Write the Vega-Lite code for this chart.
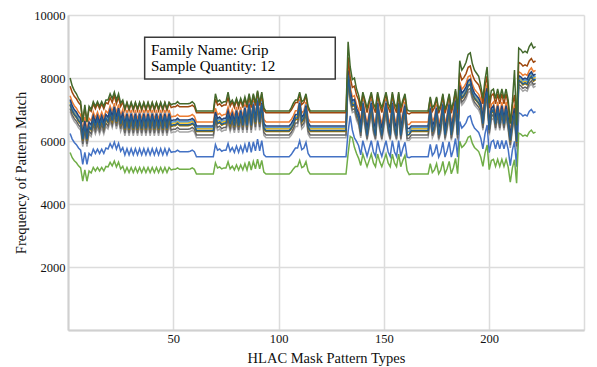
{
"$schema": "https://vega.github.io/schema/vega-lite/v6.json",
"width": 516,
"height": 315,
"autosize": {"type": "none"},
"padding": {"left": 68, "top": 15, "right": 13, "bottom": 37},
"background": "white",
"config": {"view": {"stroke": null}, "font": "Liberation Serif"},
"datasets": {
"lines": [
{"x":1,"s01":6235,"s02":7440,"s03":6940,"s04":7230,"s05":7270,"s06":5633,"s07":7320,"s08":7740,"s09":7030,"s10":7140,"s11":7170,"s12":8000},
{"x":2,"s01":6060,"s02":7240,"s03":6740,"s04":7030,"s05":7070,"s06":5470,"s07":7120,"s08":7540,"s09":6830,"s10":6940,"s11":6970,"s12":7750},
{"x":3,"s01":5955,"s02":7120,"s03":6620,"s04":6910,"s05":6950,"s06":5373,"s07":7000,"s08":7420,"s09":6710,"s10":6820,"s11":6850,"s12":7600},
{"x":4,"s01":5885,"s02":7040,"s03":6540,"s04":6830,"s05":6870,"s06":5308,"s07":6920,"s08":7340,"s09":6630,"s10":6740,"s11":6770,"s12":7500},
{"x":5,"s01":5780,"s02":6920,"s03":6420,"s04":6710,"s05":6750,"s06":5210,"s07":6800,"s08":7220,"s09":6510,"s10":6620,"s11":6650,"s12":7350},
{"x":6,"s01":5710,"s02":6840,"s03":6340,"s04":6630,"s05":6670,"s06":5145,"s07":6720,"s08":7140,"s09":6430,"s10":6540,"s11":6570,"s12":7250},
{"x":7,"s01":5255,"s02":6320,"s03":5820,"s04":6110,"s05":6150,"s06":4723,"s07":6200,"s08":6620,"s09":5910,"s10":6020,"s11":6050,"s12":6600},
{"x":8,"s01":5640,"s02":6760,"s03":6260,"s04":6550,"s05":6590,"s06":5080,"s07":6640,"s08":7060,"s09":6350,"s10":6460,"s11":6490,"s12":7150},
{"x":9,"s01":5255,"s02":6320,"s03":5820,"s04":6110,"s05":6150,"s06":4723,"s07":6200,"s08":6620,"s09":5910,"s10":6020,"s11":6050,"s12":6600},
{"x":10,"s01":5605,"s02":6720,"s03":6220,"s04":6510,"s05":6550,"s06":5048,"s07":6600,"s08":7020,"s09":6310,"s10":6420,"s11":6450,"s12":7100},
{"x":11,"s01":5535,"s02":6640,"s03":6140,"s04":6430,"s05":6470,"s06":4983,"s07":6520,"s08":6940,"s09":6230,"s10":6340,"s11":6370,"s12":7000},
{"x":12,"s01":5740,"s02":6920,"s03":6420,"s04":6730,"s05":6790,"s06":5160,"s07":6800,"s08":7180,"s09":6530,"s10":6640,"s11":6690,"s12":7250},
{"x":13,"s01":5605,"s02":6720,"s03":6220,"s04":6510,"s05":6550,"s06":5048,"s07":6600,"s08":7020,"s09":6310,"s10":6420,"s11":6450,"s12":7100},
{"x":14,"s01":5740,"s02":6920,"s03":6420,"s04":6730,"s05":6790,"s06":5160,"s07":6800,"s08":7180,"s09":6530,"s10":6640,"s11":6690,"s12":7250},
{"x":15,"s01":5605,"s02":6720,"s03":6220,"s04":6510,"s05":6550,"s06":5048,"s07":6600,"s08":7020,"s09":6310,"s10":6420,"s11":6450,"s12":7100},
{"x":16,"s01":5740,"s02":6920,"s03":6420,"s04":6730,"s05":6790,"s06":5160,"s07":6800,"s08":7180,"s09":6530,"s10":6640,"s11":6690,"s12":7250},
{"x":17,"s01":5605,"s02":6720,"s03":6220,"s04":6510,"s05":6550,"s06":5048,"s07":6600,"s08":7020,"s09":6310,"s10":6420,"s11":6450,"s12":7100},
{"x":18,"s01":5775,"s02":6960,"s03":6460,"s04":6770,"s05":6830,"s06":5193,"s07":6840,"s08":7220,"s09":6570,"s10":6680,"s11":6730,"s12":7300},
{"x":19,"s01":5745,"s02":6880,"s03":6380,"s04":6670,"s05":6710,"s06":5178,"s07":6760,"s08":7180,"s09":6470,"s10":6580,"s11":6610,"s12":7300},
{"x":20,"s01":5915,"s02":7120,"s03":6620,"s04":6930,"s05":6990,"s06":5323,"s07":7000,"s08":7380,"s09":6730,"s10":6840,"s11":6890,"s12":7500},
{"x":21,"s01":5780,"s02":6920,"s03":6420,"s04":6710,"s05":6750,"s06":5210,"s07":6800,"s08":7220,"s09":6510,"s10":6620,"s11":6650,"s12":7350},
{"x":22,"s01":5965,"s02":7200,"s03":6700,"s04":7020,"s05":7090,"s06":5363,"s07":7080,"s08":7440,"s09":6820,"s10":6930,"s11":6990,"s12":7550},
{"x":23,"s01":5745,"s02":6880,"s03":6380,"s04":6670,"s05":6710,"s06":5178,"s07":6760,"s08":7180,"s09":6470,"s10":6580,"s11":6610,"s12":7300},
{"x":24,"s01":5930,"s02":7160,"s03":6660,"s04":6980,"s05":7050,"s06":5330,"s07":7040,"s08":7400,"s09":6780,"s10":6890,"s11":6950,"s12":7500},
{"x":25,"s01":5675,"s02":6800,"s03":6300,"s04":6590,"s05":6630,"s06":5113,"s07":6680,"s08":7100,"s09":6390,"s10":6500,"s11":6530,"s12":7200},
{"x":26,"s01":5790,"s02":7000,"s03":6500,"s04":6820,"s05":6890,"s06":5200,"s07":6880,"s08":7240,"s09":6620,"s10":6730,"s11":6790,"s12":7300},
{"x":27,"s01":5556,"s02":6664,"s03":6164,"s04":6454,"s05":6494,"s06":5002,"s07":6544,"s08":6964,"s09":6254,"s10":6364,"s11":6394,"s12":7030},
{"x":28,"s01":5756,"s02":6984,"s03":6484,"s04":6814,"s05":6894,"s06":5162,"s07":6864,"s08":7204,"s09":6614,"s10":6724,"s11":6794,"s12":7230},
{"x":29,"s01":5556,"s02":6664,"s03":6164,"s04":6454,"s05":6494,"s06":5002,"s07":6544,"s08":6964,"s09":6254,"s10":6364,"s11":6394,"s12":7030},
{"x":30,"s01":5756,"s02":6984,"s03":6484,"s04":6814,"s05":6894,"s06":5162,"s07":6864,"s08":7204,"s09":6614,"s10":6724,"s11":6794,"s12":7230},
{"x":31,"s01":5556,"s02":6664,"s03":6164,"s04":6454,"s05":6494,"s06":5002,"s07":6544,"s08":6964,"s09":6254,"s10":6364,"s11":6394,"s12":7030},
{"x":32,"s01":5756,"s02":6984,"s03":6484,"s04":6814,"s05":6894,"s06":5162,"s07":6864,"s08":7204,"s09":6614,"s10":6724,"s11":6794,"s12":7230},
{"x":33,"s01":5556,"s02":6664,"s03":6164,"s04":6454,"s05":6494,"s06":5002,"s07":6544,"s08":6964,"s09":6254,"s10":6364,"s11":6394,"s12":7030},
{"x":34,"s01":5756,"s02":6984,"s03":6484,"s04":6814,"s05":6894,"s06":5162,"s07":6864,"s08":7204,"s09":6614,"s10":6724,"s11":6794,"s12":7230},
{"x":35,"s01":5556,"s02":6664,"s03":6164,"s04":6454,"s05":6494,"s06":5002,"s07":6544,"s08":6964,"s09":6254,"s10":6364,"s11":6394,"s12":7030},
{"x":36,"s01":5756,"s02":6984,"s03":6484,"s04":6814,"s05":6894,"s06":5162,"s07":6864,"s08":7204,"s09":6614,"s10":6724,"s11":6794,"s12":7230},
{"x":37,"s01":5556,"s02":6664,"s03":6164,"s04":6454,"s05":6494,"s06":5002,"s07":6544,"s08":6964,"s09":6254,"s10":6364,"s11":6394,"s12":7030},
{"x":38,"s01":5756,"s02":6984,"s03":6484,"s04":6814,"s05":6894,"s06":5162,"s07":6864,"s08":7204,"s09":6614,"s10":6724,"s11":6794,"s12":7230},
{"x":39,"s01":5556,"s02":6664,"s03":6164,"s04":6454,"s05":6494,"s06":5002,"s07":6544,"s08":6964,"s09":6254,"s10":6364,"s11":6394,"s12":7030},
{"x":40,"s01":5756,"s02":6984,"s03":6484,"s04":6814,"s05":6894,"s06":5162,"s07":6864,"s08":7204,"s09":6614,"s10":6724,"s11":6794,"s12":7230},
{"x":41,"s01":5556,"s02":6664,"s03":6164,"s04":6454,"s05":6494,"s06":5002,"s07":6544,"s08":6964,"s09":6254,"s10":6364,"s11":6394,"s12":7030},
{"x":42,"s01":5756,"s02":6984,"s03":6484,"s04":6814,"s05":6894,"s06":5162,"s07":6864,"s08":7204,"s09":6614,"s10":6724,"s11":6794,"s12":7230},
{"x":43,"s01":5556,"s02":6664,"s03":6164,"s04":6454,"s05":6494,"s06":5002,"s07":6544,"s08":6964,"s09":6254,"s10":6364,"s11":6394,"s12":7030},
{"x":44,"s01":5756,"s02":6984,"s03":6484,"s04":6814,"s05":6894,"s06":5162,"s07":6864,"s08":7204,"s09":6614,"s10":6724,"s11":6794,"s12":7230},
{"x":45,"s01":5556,"s02":6664,"s03":6164,"s04":6454,"s05":6494,"s06":5002,"s07":6544,"s08":6964,"s09":6254,"s10":6364,"s11":6394,"s12":7030},
{"x":46,"s01":5756,"s02":6984,"s03":6484,"s04":6814,"s05":6894,"s06":5162,"s07":6864,"s08":7204,"s09":6614,"s10":6724,"s11":6794,"s12":7230},
{"x":47,"s01":5556,"s02":6664,"s03":6164,"s04":6454,"s05":6494,"s06":5002,"s07":6544,"s08":6964,"s09":6254,"s10":6364,"s11":6394,"s12":7030},
{"x":48,"s01":5756,"s02":6984,"s03":6484,"s04":6814,"s05":6894,"s06":5162,"s07":6864,"s08":7204,"s09":6614,"s10":6724,"s11":6794,"s12":7230},
{"x":49,"s01":5640,"s02":6760,"s03":6260,"s04":6550,"s05":6590,"s06":5080,"s07":6640,"s08":7060,"s09":6350,"s10":6460,"s11":6490,"s12":7150},
{"x":50,"s01":5661,"s02":6784,"s03":6284,"s04":6574,"s05":6614,"s06":5100,"s07":6664,"s08":7084,"s09":6374,"s10":6484,"s11":6514,"s12":7180},
{"x":51,"s01":5661,"s02":6784,"s03":6284,"s04":6574,"s05":6614,"s06":5100,"s07":6664,"s08":7084,"s09":6374,"s10":6484,"s11":6514,"s12":7180},
{"x":52,"s01":5710,"s02":6840,"s03":6340,"s04":6630,"s05":6670,"s06":5145,"s07":6720,"s08":7140,"s09":6430,"s10":6540,"s11":6570,"s12":7250},
{"x":53,"s01":5661,"s02":6784,"s03":6284,"s04":6574,"s05":6614,"s06":5100,"s07":6664,"s08":7084,"s09":6374,"s10":6484,"s11":6514,"s12":7180},
{"x":57,"s01":5661,"s02":6784,"s03":6284,"s04":6574,"s05":6614,"s06":5100,"s07":6664,"s08":7084,"s09":6374,"s10":6484,"s11":6514,"s12":7180},
{"x":58,"s01":5675,"s02":6800,"s03":6300,"s04":6590,"s05":6630,"s06":5113,"s07":6680,"s08":7100,"s09":6390,"s10":6500,"s11":6530,"s12":7200},
{"x":59,"s01":5710,"s02":6840,"s03":6340,"s04":6630,"s05":6670,"s06":5145,"s07":6720,"s08":7140,"s09":6430,"s10":6540,"s11":6570,"s12":7250},
{"x":60,"s01":5661,"s02":6784,"s03":6284,"s04":6574,"s05":6614,"s06":5100,"s07":6664,"s08":7084,"s09":6374,"s10":6484,"s11":6514,"s12":7180},
{"x":61,"s01":5500,"s02":6600,"s03":6100,"s04":6390,"s05":6430,"s06":4950,"s07":6480,"s08":6900,"s09":6190,"s10":6300,"s11":6330,"s12":6950},
{"x":69,"s01":5500,"s02":6600,"s03":6100,"s04":6390,"s05":6430,"s06":4950,"s07":6480,"s08":6900,"s09":6190,"s10":6300,"s11":6330,"s12":6950},
{"x":70,"s01":5885,"s02":7040,"s03":6540,"s04":6830,"s05":6870,"s06":5308,"s07":6920,"s08":7340,"s09":6630,"s10":6740,"s11":6770,"s12":7500},
{"x":71,"s01":5710,"s02":6840,"s03":6340,"s04":6630,"s05":6670,"s06":5145,"s07":6720,"s08":7140,"s09":6430,"s10":6540,"s11":6570,"s12":7250},
{"x":72,"s01":5745,"s02":6880,"s03":6380,"s04":6670,"s05":6710,"s06":5178,"s07":6760,"s08":7180,"s09":6470,"s10":6580,"s11":6610,"s12":7300},
{"x":73,"s01":5675,"s02":6800,"s03":6300,"s04":6590,"s05":6630,"s06":5113,"s07":6680,"s08":7100,"s09":6390,"s10":6500,"s11":6530,"s12":7200},
{"x":74,"s01":5710,"s02":6840,"s03":6340,"s04":6630,"s05":6670,"s06":5145,"s07":6720,"s08":7140,"s09":6430,"s10":6540,"s11":6570,"s12":7250},
{"x":75,"s01":5710,"s02":6840,"s03":6340,"s04":6630,"s05":6670,"s06":5145,"s07":6720,"s08":7140,"s09":6430,"s10":6540,"s11":6570,"s12":7250},
{"x":76,"s01":5920,"s02":7080,"s03":6580,"s04":6870,"s05":6910,"s06":5340,"s07":6960,"s08":7380,"s09":6670,"s10":6780,"s11":6810,"s12":7550},
{"x":77,"s01":5675,"s02":6800,"s03":6300,"s04":6590,"s05":6630,"s06":5113,"s07":6680,"s08":7100,"s09":6390,"s10":6500,"s11":6530,"s12":7200},
{"x":78,"s01":5790,"s02":7000,"s03":6500,"s04":6820,"s05":6890,"s06":5200,"s07":6880,"s08":7240,"s09":6620,"s10":6730,"s11":6790,"s12":7300},
{"x":79,"s01":5640,"s02":6760,"s03":6260,"s04":6550,"s05":6590,"s06":5080,"s07":6640,"s08":7060,"s09":6350,"s10":6460,"s11":6490,"s12":7150},
{"x":80,"s01":5840,"s02":7080,"s03":6580,"s04":6910,"s05":6990,"s06":5240,"s07":6960,"s08":7300,"s09":6710,"s10":6820,"s11":6890,"s12":7350},
{"x":81,"s01":5640,"s02":6760,"s03":6260,"s04":6550,"s05":6590,"s06":5080,"s07":6640,"s08":7060,"s09":6350,"s10":6460,"s11":6490,"s12":7150},
{"x":82,"s01":5840,"s02":7080,"s03":6580,"s04":6910,"s05":6990,"s06":5240,"s07":6960,"s08":7300,"s09":6710,"s10":6820,"s11":6890,"s12":7350},
{"x":83,"s01":5640,"s02":6760,"s03":6260,"s04":6550,"s05":6590,"s06":5080,"s07":6640,"s08":7060,"s09":6350,"s10":6460,"s11":6490,"s12":7150},
{"x":84,"s01":5890,"s02":7160,"s03":6660,"s04":7000,"s05":7090,"s06":5280,"s07":7040,"s08":7360,"s09":6800,"s10":6910,"s11":6990,"s12":7400},
{"x":85,"s01":5640,"s02":6760,"s03":6260,"s04":6550,"s05":6590,"s06":5080,"s07":6640,"s08":7060,"s09":6350,"s10":6460,"s11":6490,"s12":7150},
{"x":86,"s01":5975,"s02":7280,"s03":6780,"s04":7130,"s05":7230,"s06":5353,"s07":7160,"s08":7460,"s09":6930,"s10":7040,"s11":7130,"s12":7500},
{"x":87,"s01":5640,"s02":6760,"s03":6260,"s04":6550,"s05":6590,"s06":5080,"s07":6640,"s08":7060,"s09":6350,"s10":6460,"s11":6490,"s12":7150},
{"x":88,"s01":5975,"s02":7280,"s03":6780,"s04":7130,"s05":7230,"s06":5353,"s07":7160,"s08":7460,"s09":6930,"s10":7040,"s11":7130,"s12":7500},
{"x":89,"s01":5690,"s02":6840,"s03":6340,"s04":6640,"s05":6690,"s06":5120,"s07":6720,"s08":7120,"s09":6440,"s10":6550,"s11":6590,"s12":7200},
{"x":90,"s01":6060,"s02":7400,"s03":6900,"s04":7260,"s05":7370,"s06":5425,"s07":7280,"s08":7560,"s09":7060,"s10":7170,"s11":7270,"s12":7600},
{"x":91,"s01":5690,"s02":6840,"s03":6340,"s04":6640,"s05":6690,"s06":5120,"s07":6720,"s08":7120,"s09":6440,"s10":6550,"s11":6590,"s12":7200},
{"x":92,"s01":6010,"s02":7320,"s03":6820,"s04":7170,"s05":7270,"s06":5385,"s07":7200,"s08":7500,"s09":6970,"s10":7080,"s11":7170,"s12":7550},
{"x":93,"s01":5570,"s02":6680,"s03":6180,"s04":6470,"s05":6510,"s06":5015,"s07":6560,"s08":6980,"s09":6270,"s10":6380,"s11":6410,"s12":7050},
{"x":94,"s01":5500,"s02":6600,"s03":6100,"s04":6390,"s05":6430,"s06":4950,"s07":6480,"s08":6900,"s09":6190,"s10":6300,"s11":6330,"s12":6950},
{"x":105,"s01":5500,"s02":6600,"s03":6100,"s04":6390,"s05":6430,"s06":4950,"s07":6480,"s08":6900,"s09":6190,"s10":6300,"s11":6330,"s12":6950},
{"x":106,"s01":5570,"s02":6680,"s03":6180,"s04":6470,"s05":6510,"s06":5015,"s07":6560,"s08":6980,"s09":6270,"s10":6380,"s11":6410,"s12":7050},
{"x":107,"s01":5675,"s02":6800,"s03":6300,"s04":6590,"s05":6630,"s06":5113,"s07":6680,"s08":7100,"s09":6390,"s10":6500,"s11":6530,"s12":7200},
{"x":108,"s01":5775,"s02":6960,"s03":6460,"s04":6770,"s05":6830,"s06":5193,"s07":6840,"s08":7220,"s09":6570,"s10":6680,"s11":6730,"s12":7300},
{"x":109,"s01":5775,"s02":6960,"s03":6460,"s04":6770,"s05":6830,"s06":5193,"s07":6840,"s08":7220,"s09":6570,"s10":6680,"s11":6730,"s12":7300},
{"x":110,"s01":6010,"s02":7320,"s03":6820,"s04":7170,"s05":7270,"s06":5385,"s07":7200,"s08":7500,"s09":6970,"s10":7080,"s11":7170,"s12":7550},
{"x":111,"s01":5725,"s02":6880,"s03":6380,"s04":6680,"s05":6730,"s06":5153,"s07":6760,"s08":7160,"s09":6480,"s10":6590,"s11":6630,"s12":7250},
{"x":112,"s01":5775,"s02":6960,"s03":6460,"s04":6770,"s05":6830,"s06":5193,"s07":6840,"s08":7220,"s09":6570,"s10":6680,"s11":6730,"s12":7300},
{"x":113,"s01":5960,"s02":7240,"s03":6740,"s04":7080,"s05":7170,"s06":5345,"s07":7120,"s08":7440,"s09":6880,"s10":6990,"s11":7070,"s12":7500},
{"x":114,"s01":5605,"s02":6720,"s03":6220,"s04":6510,"s05":6550,"s06":5048,"s07":6600,"s08":7020,"s09":6310,"s10":6420,"s11":6450,"s12":7100},
{"x":115,"s01":5500,"s02":6600,"s03":6100,"s04":6390,"s05":6430,"s06":4950,"s07":6480,"s08":6900,"s09":6190,"s10":6300,"s11":6330,"s12":6950},
{"x":132,"s01":5500,"s02":6600,"s03":6100,"s04":6390,"s05":6430,"s06":4950,"s07":6480,"s08":6900,"s09":6190,"s10":6300,"s11":6330,"s12":6950},
{"x":133,"s01":6300,"s02":8360,"s03":7860,"s04":8150,"s05":8190,"s06":5600,"s07":8240,"s08":8660,"s09":7950,"s10":8060,"s11":8090,"s12":9150},
{"x":134,"s01":6800,"s02":7720,"s03":7220,"s04":7510,"s05":7550,"s06":6150,"s07":7600,"s08":8020,"s09":7310,"s10":7420,"s11":7450,"s12":8350},
{"x":135,"s01":6350,"s02":7400,"s03":6900,"s04":7190,"s05":7230,"s06":6100,"s07":7280,"s08":7700,"s09":6990,"s10":7100,"s11":7130,"s12":7950},
{"x":136,"s01":6100,"s02":7440,"s03":6940,"s04":7230,"s05":7270,"s06":5800,"s07":7320,"s08":7740,"s09":7030,"s10":7140,"s11":7170,"s12":8000},
{"x":137,"s01":5990,"s02":7160,"s03":6660,"s04":6950,"s05":6990,"s06":5600,"s07":7040,"s08":7460,"s09":6750,"s10":6860,"s11":6890,"s12":7650},
{"x":138,"s01":5850,"s02":7000,"s03":6500,"s04":6790,"s05":6830,"s06":5450,"s07":6880,"s08":7300,"s09":6590,"s10":6700,"s11":6730,"s12":7450},
{"x":139,"s01":5560,"s02":6600,"s03":6100,"s04":6360,"s05":6370,"s06":5225,"s07":6480,"s08":6960,"s09":6160,"s10":6270,"s11":6270,"s12":7100},
{"x":140,"s01":6010,"s02":7320,"s03":6820,"s04":7170,"s05":7270,"s06":5585,"s07":7200,"s08":7500,"s09":6970,"s10":7080,"s11":7170,"s12":7550},
{"x":141,"s01":5760,"s02":6920,"s03":6420,"s04":6720,"s05":6770,"s06":5385,"s07":6800,"s08":7200,"s09":6520,"s10":6630,"s11":6670,"s12":7300},
{"x":142,"s01":5510,"s02":6520,"s03":6020,"s04":6270,"s05":6270,"s06":5185,"s07":6400,"s08":6900,"s09":6070,"s10":6180,"s11":6170,"s12":7050},
{"x":143,"s01":5760,"s02":6920,"s03":6420,"s04":6720,"s05":6770,"s06":5385,"s07":6800,"s08":7200,"s09":6520,"s10":6630,"s11":6670,"s12":7300},
{"x":144,"s01":6010,"s02":7320,"s03":6820,"s04":7170,"s05":7270,"s06":5585,"s07":7200,"s08":7500,"s09":6970,"s10":7080,"s11":7170,"s12":7550},
{"x":145,"s01":5660,"s02":6760,"s03":6260,"s04":6540,"s05":6570,"s06":5305,"s07":6640,"s08":7080,"s09":6340,"s10":6450,"s11":6470,"s12":7200},
{"x":146,"s01":5510,"s02":6520,"s03":6020,"s04":6270,"s05":6270,"s06":5185,"s07":6400,"s08":6900,"s09":6070,"s10":6180,"s11":6170,"s12":7050},
{"x":147,"s01":6010,"s02":7320,"s03":6820,"s04":7170,"s05":7270,"s06":5585,"s07":7200,"s08":7500,"s09":6970,"s10":7080,"s11":7170,"s12":7550},
{"x":148,"s01":5710,"s02":6840,"s03":6340,"s04":6630,"s05":6670,"s06":5345,"s07":6720,"s08":7140,"s09":6430,"s10":6540,"s11":6570,"s12":7250},
{"x":149,"s01":5510,"s02":6520,"s03":6020,"s04":6270,"s05":6270,"s06":5185,"s07":6400,"s08":6900,"s09":6070,"s10":6180,"s11":6170,"s12":7050},
{"x":150,"s01":5760,"s02":6920,"s03":6420,"s04":6720,"s05":6770,"s06":5385,"s07":6800,"s08":7200,"s09":6520,"s10":6630,"s11":6670,"s12":7300},
{"x":151,"s01":6010,"s02":7320,"s03":6820,"s04":7170,"s05":7270,"s06":5585,"s07":7200,"s08":7500,"s09":6970,"s10":7080,"s11":7170,"s12":7550},
{"x":152,"s01":5660,"s02":6760,"s03":6260,"s04":6540,"s05":6570,"s06":5305,"s07":6640,"s08":7080,"s09":6340,"s10":6450,"s11":6470,"s12":7200},
{"x":153,"s01":5510,"s02":6520,"s03":6020,"s04":6270,"s05":6270,"s06":5185,"s07":6400,"s08":6900,"s09":6070,"s10":6180,"s11":6170,"s12":7050},
{"x":154,"s01":6010,"s02":7320,"s03":6820,"s04":7170,"s05":7270,"s06":5585,"s07":7200,"s08":7500,"s09":6970,"s10":7080,"s11":7170,"s12":7550},
{"x":155,"s01":5660,"s02":6760,"s03":6260,"s04":6540,"s05":6570,"s06":5305,"s07":6640,"s08":7080,"s09":6340,"s10":6450,"s11":6470,"s12":7200},
{"x":156,"s01":5510,"s02":6520,"s03":6020,"s04":6270,"s05":6270,"s06":5185,"s07":6400,"s08":6900,"s09":6070,"s10":6180,"s11":6170,"s12":7050},
{"x":157,"s01":6010,"s02":7320,"s03":6820,"s04":7170,"s05":7270,"s06":5585,"s07":7200,"s08":7500,"s09":6970,"s10":7080,"s11":7170,"s12":7550},
{"x":158,"s01":5510,"s02":6520,"s03":6020,"s04":6270,"s05":6270,"s06":5185,"s07":6400,"s08":6900,"s09":6070,"s10":6180,"s11":6170,"s12":7050},
{"x":159,"s01":5760,"s02":6920,"s03":6420,"s04":6720,"s05":6770,"s06":5385,"s07":6800,"s08":7200,"s09":6520,"s10":6630,"s11":6670,"s12":7300},
{"x":160,"s01":5960,"s02":7240,"s03":6740,"s04":7080,"s05":7170,"s06":5545,"s07":7120,"s08":7440,"s09":6880,"s10":6990,"s11":7070,"s12":7500},
{"x":161,"s01":5490,"s02":6520,"s03":6020,"s04":6280,"s05":6290,"s06":5060,"s07":6400,"s08":6880,"s09":6080,"s10":6190,"s11":6190,"s12":7000},
{"x":162,"s01":5470,"s02":6520,"s03":6020,"s04":6290,"s05":6310,"s06":4935,"s07":6400,"s08":6860,"s09":6090,"s10":6200,"s11":6210,"s12":6950},
{"x":163,"s01":5500,"s02":6600,"s03":6100,"s04":6390,"s05":6430,"s06":4950,"s07":6480,"s08":6900,"s09":6190,"s10":6300,"s11":6330,"s12":6950},
{"x":171,"s01":5500,"s02":6600,"s03":6100,"s04":6390,"s05":6430,"s06":4950,"s07":6480,"s08":6900,"s09":6190,"s10":6300,"s11":6330,"s12":6950},
{"x":172,"s01":5890,"s02":7160,"s03":6660,"s04":7000,"s05":7090,"s06":5280,"s07":7040,"s08":7360,"s09":6800,"s10":6910,"s11":6990,"s12":7400},
{"x":173,"s01":5540,"s02":6600,"s03":6100,"s04":6370,"s05":6390,"s06":5000,"s07":6480,"s08":6940,"s09":6170,"s10":6280,"s11":6290,"s12":7050},
{"x":174,"s01":5640,"s02":6760,"s03":6260,"s04":6550,"s05":6590,"s06":5080,"s07":6640,"s08":7060,"s09":6350,"s10":6460,"s11":6490,"s12":7150},
{"x":175,"s01":5890,"s02":7160,"s03":6660,"s04":7000,"s05":7090,"s06":5280,"s07":7040,"s08":7360,"s09":6800,"s10":6910,"s11":6990,"s12":7400},
{"x":176,"s01":5490,"s02":6520,"s03":6020,"s04":6280,"s05":6290,"s06":4960,"s07":6400,"s08":6880,"s09":6080,"s10":6190,"s11":6190,"s12":7000},
{"x":177,"s01":5640,"s02":6760,"s03":6260,"s04":6550,"s05":6590,"s06":5080,"s07":6640,"s08":7060,"s09":6350,"s10":6460,"s11":6490,"s12":7150},
{"x":178,"s01":5975,"s02":7280,"s03":6780,"s04":7130,"s05":7230,"s06":5353,"s07":7160,"s08":7460,"s09":6930,"s10":7040,"s11":7130,"s12":7500},
{"x":179,"s01":5490,"s02":6520,"s03":6020,"s04":6280,"s05":6290,"s06":4960,"s07":6400,"s08":6880,"s09":6080,"s10":6190,"s11":6190,"s12":7000},
{"x":180,"s01":5690,"s02":6840,"s03":6340,"s04":6640,"s05":6690,"s06":5120,"s07":6720,"s08":7120,"s09":6440,"s10":6550,"s11":6590,"s12":7200},
{"x":181,"s01":5975,"s02":7280,"s03":6780,"s04":7130,"s05":7230,"s06":5353,"s07":7160,"s08":7460,"s09":6930,"s10":7040,"s11":7130,"s12":7500},
{"x":182,"s01":5490,"s02":6520,"s03":6020,"s04":6280,"s05":6290,"s06":4960,"s07":6400,"s08":6880,"s09":6080,"s10":6190,"s11":6190,"s12":7000},
{"x":183,"s01":5725,"s02":6880,"s03":6380,"s04":6680,"s05":6730,"s06":5153,"s07":6760,"s08":7160,"s09":6480,"s10":6590,"s11":6630,"s12":7250},
{"x":184,"s01":6080,"s02":7400,"s03":6900,"s04":7250,"s05":7350,"s06":5450,"s07":7280,"s08":7580,"s09":7050,"s10":7160,"s11":7250,"s12":7650},
{"x":185,"s01":5490,"s02":6520,"s03":6020,"s04":6280,"s05":6290,"s06":4960,"s07":6400,"s08":6880,"s09":6080,"s10":6190,"s11":6190,"s12":7000},
{"x":186,"s01":6620,"s02":7880,"s03":7380,"s04":7670,"s05":7710,"s06":5990,"s07":7760,"s08":8180,"s09":7470,"s10":7580,"s11":7610,"s12":8550},
{"x":187,"s01":6410,"s02":7640,"s03":7140,"s04":7430,"s05":7470,"s06":5795,"s07":7520,"s08":7940,"s09":7230,"s10":7340,"s11":7370,"s12":8250},
{"x":188,"s01":6480,"s02":7720,"s03":7220,"s04":7510,"s05":7550,"s06":5860,"s07":7600,"s08":8020,"s09":7310,"s10":7420,"s11":7450,"s12":8350},
{"x":189,"s01":6585,"s02":7840,"s03":7340,"s04":7630,"s05":7670,"s06":5958,"s07":7720,"s08":8140,"s09":7430,"s10":7540,"s11":7570,"s12":8500},
{"x":190,"s01":6760,"s02":8040,"s03":7540,"s04":7830,"s05":7870,"s06":6120,"s07":7920,"s08":8340,"s09":7630,"s10":7740,"s11":7770,"s12":8750},
{"x":191,"s01":6795,"s02":8080,"s03":7580,"s04":7870,"s05":7910,"s06":6153,"s07":7960,"s08":8380,"s09":7670,"s10":7780,"s11":7810,"s12":8800},
{"x":192,"s01":6550,"s02":7800,"s03":7300,"s04":7590,"s05":7630,"s06":5925,"s07":7680,"s08":8100,"s09":7390,"s10":7500,"s11":7530,"s12":8450},
{"x":193,"s01":6410,"s02":7640,"s03":7140,"s04":7430,"s05":7470,"s06":5795,"s07":7520,"s08":7940,"s09":7230,"s10":7340,"s11":7370,"s12":8250},
{"x":194,"s01":6340,"s02":7560,"s03":7060,"s04":7350,"s05":7390,"s06":5730,"s07":7440,"s08":7860,"s09":7150,"s10":7260,"s11":7290,"s12":8150},
{"x":195,"s01":6270,"s02":7480,"s03":6980,"s04":7270,"s05":7310,"s06":5665,"s07":7360,"s08":7780,"s09":7070,"s10":7180,"s11":7210,"s12":8050},
{"x":196,"s01":6090,"s02":7320,"s03":6820,"s04":7130,"s05":7190,"s06":5485,"s07":7200,"s08":7580,"s09":6930,"s10":7040,"s11":7090,"s12":7750},
{"x":197,"s01":5750,"s02":6840,"s03":6340,"s04":6610,"s05":6630,"s06":5195,"s07":6720,"s08":7180,"s09":6410,"s10":6520,"s11":6530,"s12":7350},
{"x":198,"s01":6230,"s02":7480,"s03":6980,"s04":7290,"s05":7350,"s06":5615,"s07":7360,"s08":7740,"s09":7090,"s10":7200,"s11":7250,"s12":7950},
{"x":199,"s01":6510,"s02":7800,"s03":7300,"s04":7610,"s05":7670,"s06":5875,"s07":7680,"s08":8060,"s09":7410,"s10":7520,"s11":7570,"s12":8350},
{"x":200,"s01":5630,"s02":6680,"s03":6180,"s04":6440,"s05":6450,"s06":5090,"s07":6560,"s08":7040,"s09":6240,"s10":6350,"s11":6350,"s12":7200},
{"x":201,"s01":5970,"s02":7160,"s03":6660,"s04":6960,"s05":7010,"s06":5380,"s07":7040,"s08":7440,"s09":6760,"s10":6870,"s11":6910,"s12":7600},
{"x":202,"s01":6020,"s02":7240,"s03":6740,"s04":7050,"s05":7110,"s06":5420,"s07":7120,"s08":7500,"s09":6850,"s10":6960,"s11":7010,"s12":7650},
{"x":203,"s01":5750,"s02":6840,"s03":6340,"s04":6610,"s05":6630,"s06":5195,"s07":6720,"s08":7180,"s09":6410,"s10":6520,"s11":6530,"s12":7350},
{"x":204,"s01":6020,"s02":7240,"s03":6740,"s04":7050,"s05":7110,"s06":5420,"s07":7120,"s08":7500,"s09":6850,"s10":6960,"s11":7010,"s12":7650},
{"x":205,"s01":5750,"s02":6840,"s03":6340,"s04":6610,"s05":6630,"s06":5195,"s07":6720,"s08":7180,"s09":6410,"s10":6520,"s11":6530,"s12":7350},
{"x":206,"s01":6020,"s02":7240,"s03":6740,"s04":7050,"s05":7110,"s06":5420,"s07":7120,"s08":7500,"s09":6850,"s10":6960,"s11":7010,"s12":7650},
{"x":207,"s01":5750,"s02":6840,"s03":6340,"s04":6610,"s05":6630,"s06":5195,"s07":6720,"s08":7180,"s09":6410,"s10":6520,"s11":6530,"s12":7350},
{"x":208,"s01":6020,"s02":7240,"s03":6740,"s04":7050,"s05":7110,"s06":5420,"s07":7120,"s08":7500,"s09":6850,"s10":6960,"s11":7010,"s12":7650},
{"x":209,"s01":5730,"s02":6840,"s03":6340,"s04":6620,"s05":6650,"s06":5170,"s07":6720,"s08":7160,"s09":6420,"s10":6530,"s11":6550,"s12":7300},
{"x":210,"s01":5220,"s02":6280,"s03":5780,"s04":6070,"s05":6110,"s06":4690,"s07":6160,"s08":6580,"s09":5870,"s10":5980,"s11":6010,"s12":6550},
{"x":211,"s01":5710,"s02":6840,"s03":6340,"s04":6630,"s05":6670,"s06":5145,"s07":6720,"s08":7140,"s09":6430,"s10":6540,"s11":6570,"s12":7250},
{"x":212,"s01":5990,"s02":7160,"s03":6660,"s04":6950,"s05":6990,"s06":5405,"s07":7040,"s08":7460,"s09":6750,"s10":6860,"s11":6890,"s12":8250},
{"x":213,"s01":5185,"s02":6240,"s03":5740,"s04":6030,"s05":6070,"s06":4658,"s07":6120,"s08":6540,"s09":5830,"s10":5940,"s11":5970,"s12":6500},
{"x":214,"s01":6900,"s02":8200,"s03":7700,"s04":7990,"s05":8030,"s06":6250,"s07":8080,"s08":8500,"s09":7790,"s10":7900,"s11":7930,"s12":8950},
{"x":215,"s01":6865,"s02":8160,"s03":7660,"s04":7950,"s05":7990,"s06":6218,"s07":8040,"s08":8460,"s09":7750,"s10":7860,"s11":7890,"s12":8900},
{"x":216,"s01":6795,"s02":8080,"s03":7580,"s04":7870,"s05":7910,"s06":6153,"s07":7960,"s08":8380,"s09":7670,"s10":7780,"s11":7810,"s12":8800},
{"x":217,"s01":6830,"s02":8120,"s03":7620,"s04":7910,"s05":7950,"s06":6185,"s07":8000,"s08":8420,"s09":7710,"s10":7820,"s11":7850,"s12":8850},
{"x":218,"s01":6795,"s02":8080,"s03":7580,"s04":7870,"s05":7910,"s06":6153,"s07":7960,"s08":8380,"s09":7670,"s10":7780,"s11":7810,"s12":8800},
{"x":219,"s01":6935,"s02":8240,"s03":7740,"s04":8030,"s05":8070,"s06":6283,"s07":8120,"s08":8540,"s09":7830,"s10":7940,"s11":7970,"s12":9000},
{"x":220,"s01":7005,"s02":8320,"s03":7820,"s04":8110,"s05":8150,"s06":6348,"s07":8200,"s08":8620,"s09":7910,"s10":8020,"s11":8050,"s12":9100},
{"x":221,"s01":6900,"s02":8200,"s03":7700,"s04":7990,"s05":8030,"s06":6250,"s07":8080,"s08":8500,"s09":7790,"s10":7900,"s11":7930,"s12":8950},
{"x":222,"s01":6935,"s02":8240,"s03":7740,"s04":8030,"s05":8070,"s06":6283,"s07":8120,"s08":8540,"s09":7830,"s10":7940,"s11":7970,"s12":9000}
]
},
"layer": [
{
"data": {"name": "lines"},
"transform": [{"fold": ["s01","s02","s03","s04","s05","s06","s07","s08","s09","s10","s11","s12"], "as": ["series","value"]}],
"mark": {"type": "line", "strokeWidth": 1.5, "clip": true},
"encoding": {
"x": {"field": "x", "type": "quantitative", "scale": {"domain": [0, 245], "nice": false, "zero": false},
"axis": {"title": "HLAC Mask Pattern Types", "values": [0, 50, 100, 150, 200, 245], "labelExpr": "datum.value == 0 || datum.value == 245 ? '' : datum.label", "labelFlush": false, "labelOverlap": false, "grid": true, "gridColor": "#dcdcdc", "gridWidth": 1.5, "ticks": false, "domainColor": "#d0d0d0", "domainWidth": 2, "labelFont": "Liberation Serif", "labelFontSize": 12.5, "labelColor": "#111111", "labelPadding": 2, "titleFont": "Liberation Serif", "titleFontSize": 14.5, "titleFontWeight": "normal", "titleColor": "#111111", "titlePadding": 7}},
"y": {"field": "value", "type": "quantitative", "scale": {"domain": [0, 10000], "nice": false},
"axis": {"title": "Frequency of Pattern Match", "values": [0, 1000, 2000, 3000, 4000, 5000, 6000, 7000, 8000, 9000, 10000], "format": "d", "labelExpr": "datum.value % 2000 == 0 && datum.value > 0 ? datum.label : ''", "labelOverlap": false, "grid": true, "gridColor": "#dcdcdc", "gridWidth": 1.5, "ticks": false, "domainColor": "#d0d0d0", "domainWidth": 2, "labelFont": "Liberation Serif", "labelFontSize": 12.5, "labelColor": "#111111", "labelPadding": 3, "titleFont": "Liberation Serif", "titleFontSize": 14.5, "titleFontWeight": "normal", "titleColor": "#111111", "titlePadding": 5}},
"color": {"field": "series", "type": "nominal", "legend": null,
"scale": {"domain": ["s01","s02","s03","s04","s05","s06","s07","s08","s09","s10","s11","s12"], "range": ["#4472C4","#ED7D31","#A5A5A5","#FFC000","#5B9BD5","#70AD47","#264478","#9E480E","#636363","#997300","#255E91","#43682B"]}}
}
},
{
"data": {"values": [{}]},
"mark": {"type": "rect", "fill": "white", "stroke": "#3a3a3a", "strokeWidth": 1.5},
"encoding": {"x": {"datum": 36.4}, "x2": {"datum": 126.9}, "y": {"datum": 7968}, "y2": {"datum": 9292}}
},
{
"data": {"values": [{}]},
"mark": {"type": "text", "align": "left", "baseline": "alphabetic", "font": "Liberation Serif", "fontSize": 15, "color": "#000000"},
"encoding": {"x": {"datum": 39.4}, "y": {"datum": 8730}, "text": {"value": "Family Name: Grip"}}
},
{
"data": {"values": [{}]},
"mark": {"type": "text", "align": "left", "baseline": "alphabetic", "font": "Liberation Serif", "fontSize": 15, "color": "#000000"},
"encoding": {"x": {"datum": 39.4}, "y": {"datum": 8222}, "text": {"value": "Sample Quantity: 12"}}
}
]
}
